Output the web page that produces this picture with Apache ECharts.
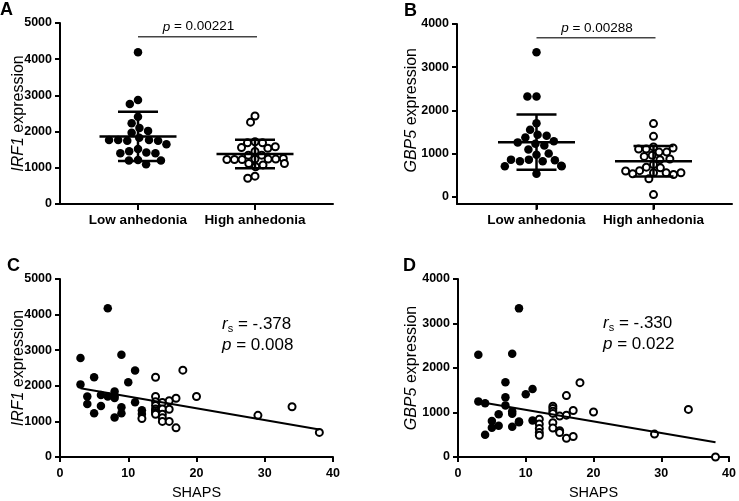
<!DOCTYPE html>
<html><head><meta charset="utf-8">
<script src="https://cdn.jsdelivr.net/npm/echarts@6/dist/echarts.min.js"></script>
<style>html,body{margin:0;padding:0;background:#fff}#c{width:739px;height:501px}</style>
</head><body><div id="c"></div>
<script>
// ---------- data ----------
const groups = ['Low anhedonia', 'High anhedonia'];
const yTicksA = [0, 1000, 2000, 3000, 4000, 5000];
const yTicksB = [0, 1000, 2000, 3000, 4000];
const xTicksSHAPS = [0, 10, 20, 30, 40];

const irf1Low  = [4190, 2870, 2760, 2410, 2230, 2100, 2020, 1970, 1830, 1770, 1750, 1770, 1750, 1770, 1650, 1520, 1460, 1420, 1400, 1400, 1215, 1200, 1200, 1100];
const irf1High = [2430, 2260, 1720, 1690, 1690, 1560, 1540, 1580, 1450, 1350, 1350, 1240, 1230, 1240, 1230, 1240, 1230, 1260, 1120, 1030, 1080, 1120, 770, 710];
const gbp5Low  = [3345, 2320, 2320, 1700, 1550, 1430, 1410, 1370, 1280, 1225, 1180, 1255, 1090, 970, 995, 855, 815, 815, 840, 855, 700, 700, 715, 525];
const gbp5High = [1690, 1395, 1150, 1100, 1030, 1030, 1100, 1125, 955, 930, 855, 870, 740, 680, 665, 600, 550, 550, 510, 525, 550, 590, 410, 45];

const pA = '0.00221';
const pB = '0.00288';
const sigA = 4620;   // level of the p-value bar, panel A
const sigB = 3680;   // level of the p-value bar, panel B

// Panel C: SHAPS vs IRF1
const shapsLowC = [3, 3, 4, 4, 5, 5, 6, 6, 7, 7, 8, 8, 8, 8, 9, 9, 9, 10, 11, 11, 12, 12];
const irf1LowC  = [2780, 2040, 1700, 1490, 2240, 1230, 1740, 1430, 4180, 1700, 1840, 1720, 1660, 1110, 2870, 1400, 1230, 2100, 2430, 1540, 1310, 1210];
const shapsHighC = [12, 14, 14, 14, 14, 14, 14, 14, 14, 15, 15, 15, 15, 15, 16, 16, 16, 17, 17, 18, 20, 29, 34, 38];
const irf1HighC  = [1080, 2240, 1700, 1550, 1450, 1350, 1300, 1250, 1200, 1530, 1350, 1200, 1100, 1000, 1580, 1340, 1000, 1650, 820, 2440, 1700, 1170, 1410, 690];
const fitCx = [3, 38];
const fitCy = [1930, 770];
const rsC = '-.378', pC = '0.008';

// Panel D: SHAPS vs GBP5
const shapsLowD = [9, 3, 8, 7, 11, 10, 7, 3, 4, 7, 8, 8, 6, 11, 5, 9, 9, 6, 8, 5, 4];
const gbp5LowD  = [3340, 2300, 2320, 1680, 1530, 1410, 1340, 1250, 1210, 1160, 1030, 970, 960, 820, 810, 795, 780, 700, 680, 660, 500];
const shapsHighD = [18, 16, 14, 14, 14, 14, 17, 20, 34, 16, 15, 12, 12, 12, 12, 12, 14, 14, 15, 15, 16, 17, 29, 38];
const gbp5HighD  = [1670, 1380, 1140, 1090, 1030, 980, 1045, 1010, 1070, 940, 920, 850, 740, 640, 550, 490, 770, 650, 590, 550, 420, 460, 515, 0];
const fitDx = [3, 38];
const fitDy = [1240, 330];
const rsD = '-.330', pD = '0.022';

// ---------- helpers ----------
const FONT = 'Liberation Sans, Arial, sans-serif';
function meanSd(a) {
  const n = a.length, m = a.reduce((s, v) => s + v, 0) / n;
  const v = a.reduce((s, x) => s + (x - m) * (x - m), 0) / (n - 1);
  return [m, Math.sqrt(v)];
}
const option = { animation: false, backgroundColor: '#fff', grid: [], xAxis: [], yAxis: [], series: [], graphic: [] };

const axLine = { show: true, onZero: false, lineStyle: { color: '#000', width: 2 } };
const tick = { show: true, interval: 0, length: 5, lineStyle: { color: '#000', width: 2 } };
const tickLabel = { color: '#000', fontWeight: 'bold', fontSize: 12.5, fontFamily: FONT, formatter: v => String(v) };
function frameAxis(gi) {
  return { gridIndex: gi, type: 'value', min: 0, max: 1, axisLine: axLine, axisTick: { show: false },
           axisLabel: { show: false }, splitLine: { show: false } };
}
function hiddenAxis(gi, max) {
  return { gridIndex: gi, type: 'value', min: 0, max: max || 1, show: false, splitLine: { show: false } };
}
function yName(gene) {
  return {
    name: '{i|' + gene + '} expression', nameLocation: 'middle', nameRotate: 90, nameMoveOverlap: false,
    nameTextStyle: { color: '#000', fontSize: 16, fontFamily: FONT,
      rich: { i: { fontStyle: 'italic', fontSize: 16, fontFamily: FONT, color: '#000' } } }
  };
}
const dotFilled = { color: '#000', opacity: 1 };
const dotOpen = { color: '#fff', borderColor: '#000', borderWidth: 2, opacity: 1 };

function addDotPanel(c) {
  const gi = option.grid.length, xi = option.xAxis.length, yi = option.yAxis.length;
  const w = c.right - c.left;
  const off = c.axisY - c.zeroY;
  option.grid.push({ left: c.left, top: c.top, width: w, height: c.axisY - c.top });
  option.grid.push({ left: c.left, top: c.top, width: w, height: c.zeroY - c.top });
  option.grid.push({ left: c.catL, top: c.top, width: c.catR - c.catL, height: c.zeroY - c.top });
  option.grid.push({ left: c.catL, top: c.top, width: c.catR - c.catL, height: c.axisY - c.top });
  option.xAxis.push(frameAxis(gi), hiddenAxis(gi + 1),
    { gridIndex: gi + 2, type: 'category', data: groups, boundaryGap: true, offset: off,
      axisLine: { show: false }, axisTick: { show: false },
      axisLabel: { color: '#000', fontWeight: 'bold', fontSize: 13.5, fontFamily: FONT, margin: 9, interval: 0 },
      jitter: 66, jitterOverlap: false, jitterMargin: 0.6 },
    // plain category axis (no jitter) that only carries the group ticks
    { gridIndex: gi + 3, type: 'category', data: groups, boundaryGap: true,
      axisLine: { show: false }, axisLabel: { show: false },
      axisTick: { show: true, alignWithLabel: true, interval: 0, length: 5, lineStyle: { color: '#000', width: 2 } } });
  option.yAxis.push(frameAxis(gi),
    Object.assign({ gridIndex: gi + 1, type: 'value', min: 0, max: c.ticks[c.ticks.length - 1], interval: 1000,
      axisLine: { show: false }, axisTick: tick, axisLabel: Object.assign({ margin: 8 }, tickLabel),
      splitLine: { show: false }, nameGap: c.nameGap }, yName(c.gene)),
    hiddenAxis(gi + 2, c.ticks[c.ticks.length - 1]),
    hiddenAxis(gi + 3, 1));
  const X = xi + 2, Y = yi + 2;
  // category ticks drawn as marks on the plain category axis as well
  option.series.push({ type: 'scatter', xAxisIndex: xi + 3, yAxisIndex: yi + 3, clip: false, silent: true,
    symbol: 'rect', symbolSize: [2, 6], symbolOffset: [0, 3], itemStyle: { color: '#000', opacity: 1 },
    data: groups.map((g, i) => [i, 0]), z: 5 });
  option.series.push({ type: 'scatter', xAxisIndex: X, yAxisIndex: Y, clip: false, symbolSize: 8.5,
    itemStyle: dotFilled, data: c.low.map(v => [0, v]), z: 2 });
  option.series.push({ type: 'scatter', xAxisIndex: X, yAxisIndex: Y, clip: false, symbolSize: 7,
    itemStyle: dotOpen, data: c.high.map(v => [1, v]), z: 2 });
  const ms = [meanSd(c.low), meanSd(c.high)];
  option.series.push({ type: 'custom', xAxisIndex: X, yAxisIndex: Y, z: 4, clip: false,
    data: ms.map((d, i) => [i, d[0], d[1]]),
    renderItem: function (params, api) {
      const cat = api.value(0), m = api.value(1), s = api.value(2);
      const pm = api.coord([cat, m]), pt = api.coord([cat, m + s]), pb = api.coord([cat, m - s]);
      const st = { stroke: '#000', lineWidth: 2.5 };
      return { type: 'group', children: [
        { type: 'line', shape: { x1: pm[0] - 38.5, y1: pm[1], x2: pm[0] + 38.5, y2: pm[1] }, style: st },
        { type: 'line', shape: { x1: pt[0], y1: pt[1], x2: pb[0], y2: pb[1] }, style: st },
        { type: 'line', shape: { x1: pt[0] - 20, y1: pt[1], x2: pt[0] + 20, y2: pt[1] }, style: st },
        { type: 'line', shape: { x1: pb[0] - 20, y1: pb[1], x2: pb[0] + 20, y2: pb[1] }, style: st }
      ] };
    } });
  option.series.push({ type: 'custom', xAxisIndex: X, yAxisIndex: Y, z: 4, clip: false,
    data: [[0, 1, c.sig]],
    renderItem: function (params, api) {
      const y = api.value(2);
      const p0 = api.coord([api.value(0), y]), p1 = api.coord([api.value(1), y]);
      return { type: 'group', children: [
        { type: 'line', shape: { x1: p0[0], y1: p0[1], x2: p1[0] + 2, y2: p1[1] }, style: { stroke: '#444', lineWidth: 1.4 } },
        { type: 'text', x: (p0[0] + p1[0]) / 2 + 2, y: p0[1] - 10,
          style: { text: '{i|p} = ' + c.p, fill: '#000', fontSize: 13.5, fontFamily: FONT, align: 'center', verticalAlign: 'middle',
                   rich: { i: { fontStyle: 'italic', fontSize: 13.5, fontFamily: FONT, fill: '#000' } } } }
      ] };
    } });
}

function addScatterPanel(c) {
  const gi = option.grid.length, xi = option.xAxis.length, yi = option.yAxis.length;
  option.grid.push({ left: c.left, top: c.top, width: c.right - c.left, height: c.zeroY - c.top });
  option.xAxis.push({ gridIndex: gi, type: 'value', min: 0, max: 40, interval: 10, axisLine: axLine, axisTick: tick,
    axisLabel: Object.assign({ margin: 10 }, tickLabel), splitLine: { show: false },
    name: 'SHAPS', nameLocation: 'middle', nameGap: 28, nameMoveOverlap: false,
    nameTextStyle: { color: '#000', fontSize: 14.5, fontFamily: FONT } });
  option.yAxis.push(Object.assign({ gridIndex: gi, type: 'value', min: 0, max: c.ticks[c.ticks.length - 1], interval: 1000,
    axisLine: axLine, axisTick: tick, axisLabel: Object.assign({ margin: 8 }, tickLabel), splitLine: { show: false },
    nameGap: c.nameGap }, yName(c.gene)));
  option.series.push({ type: 'scatter', xAxisIndex: xi, yAxisIndex: yi, clip: false, symbolSize: 8.5,
    itemStyle: dotFilled, data: c.lowX.map((x, i) => [x, c.lowY[i]]), z: 2 });
  option.series.push({ type: 'scatter', xAxisIndex: xi, yAxisIndex: yi, clip: false, symbolSize: 7,
    itemStyle: dotOpen, data: c.highX.map((x, i) => [x, c.highY[i]]), z: 2 });
  option.series.push({ type: 'line', xAxisIndex: xi, yAxisIndex: yi, symbol: 'none', silent: true, z: 3,
    lineStyle: { color: '#000', width: 2 }, data: c.fitX.map((x, i) => [x, c.fitY[i]]) });
}

addDotPanel({ left: 60, right: 333, top: 23, zeroY: 204, axisY: 204, catL: 79.5, catR: 313.5, ticks: yTicksA,
  gene: 'IRF1', nameGap: 33, low: irf1Low, high: irf1High, sig: sigA, p: pA });
addDotPanel({ left: 457, right: 732, top: 24, zeroY: 196.5, axisY: 204, catL: 478, catR: 712, ticks: yTicksB,
  gene: 'GBP5', nameGap: 37, low: gbp5Low, high: gbp5High, sig: sigB, p: pB });
addScatterPanel({ left: 60, right: 333, top: 279, zeroY: 461, ticks: yTicksA, gene: 'IRF1', nameGap: 33,
  lowX: shapsLowC, lowY: irf1LowC, highX: shapsHighC, highY: irf1HighC, fitX: fitCx, fitY: fitCy });
addScatterPanel({ left: 458, right: 732, top: 279, zeroY: 460, ticks: yTicksB, gene: 'GBP5', nameGap: 38,
  lowX: shapsLowD, lowY: gbp5LowD, highX: shapsHighD, highY: gbp5HighD, fitX: fitDx, fitY: fitDy });

function letter(t, l, tp) {
  return { type: 'text', left: l, top: tp, style: { text: t, fill: '#000', font: 'bold 18px ' + FONT } };
}
function stat(l, tp, rs, p) {
  const rich = { r: { fontStyle: 'italic', fontSize: 17, fontFamily: FONT, fill: '#000' },
                 s: { fontSize: 11, fontFamily: FONT, fill: '#000', padding: [9, 0, 0, 0] },
                 t: { fontSize: 17, fontFamily: FONT, fill: '#000' } };
  return [
    { type: 'text', left: l, top: tp, style: { text: '{r|r}{s|s}{t| = ' + rs + '}', rich: rich, fontSize: 17, fontFamily: FONT, fill: '#000' } },
    { type: 'text', left: l, top: tp + 21, style: { text: '{r|p}{t| = ' + p + '}', rich: rich, fontSize: 17, fontFamily: FONT, fill: '#000' } }
  ];
}
option.graphic = [letter('A', 0, 1), letter('B', 404, 2), letter('C', 7, 257), letter('D', 403, 257)]
  .concat(stat(222, 316, rsC, pC)).concat(stat(603, 315, rsD, pD));

const chart = echarts.init(document.getElementById('c'), null, { renderer: 'canvas' });
chart.setOption(option);
</script></body></html>
